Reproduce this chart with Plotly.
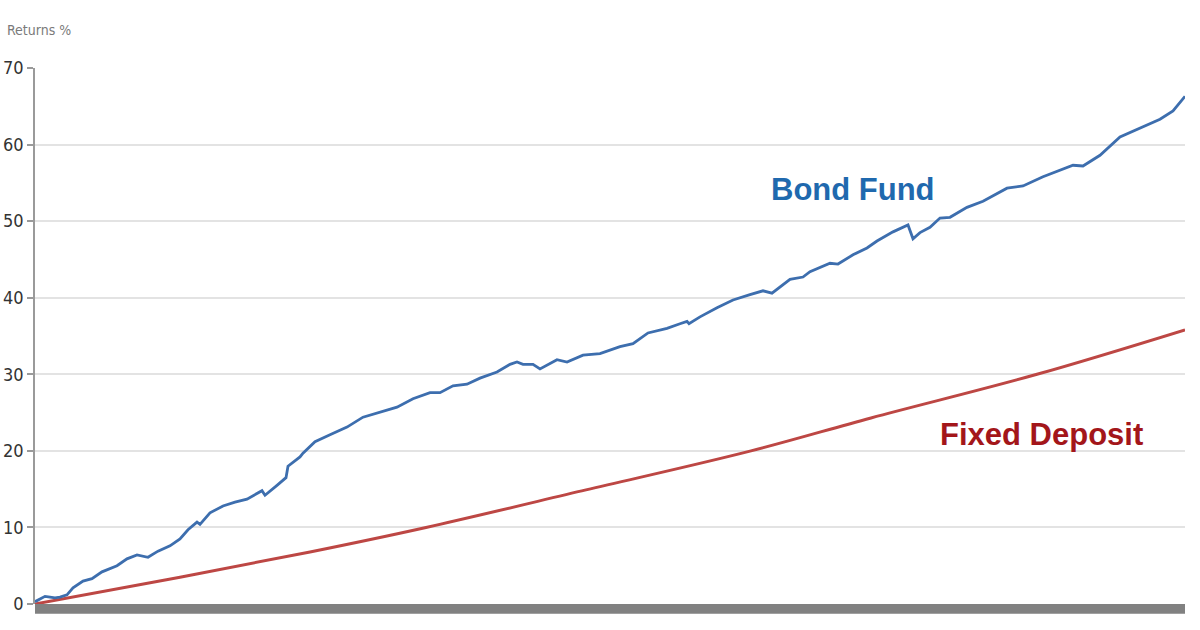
import plotly.graph_objects as go

# Bond fund cumulative returns (%) by trading day
bond_day = [0, 10, 15, 20, 25, 32, 38, 48, 57, 67, 82, 92, 102, 113, 123, 135, 145, 153, 162, 165,
            175, 188, 200, 212, 227, 230, 242, 251, 253, 262, 265, 268, 280, 295, 312, 328, 345, 362,
            378, 395, 405, 418, 432, 445, 462, 475, 482, 488, 498, 505, 522, 532, 548, 565, 585, 598,
            613, 632, 645, 652, 654, 665, 682, 698, 715, 728, 737, 745, 755, 768, 775, 795, 803, 818,
            832, 842, 858, 873, 878, 885, 895, 905, 915, 932, 948, 972, 988, 1008, 1025, 1038, 1048,
            1065, 1085, 1105, 1125, 1138, 1150]
bond_ret = [0.3, 1.0, 0.9, 0.8, 0.9, 1.2, 2.1, 3.0, 3.3, 4.2, 5.0, 5.9, 6.4, 6.1, 6.9, 7.6, 8.5, 9.7,
            10.7, 10.4, 11.9, 12.8, 13.3, 13.7, 14.8, 14.2, 15.5, 16.5, 18.0, 18.9, 19.2, 19.7, 21.2,
            22.1, 23.1, 24.4, 25.1, 25.7, 26.8, 27.6, 27.6, 28.5, 28.7, 29.5, 30.3, 31.3, 31.6, 31.3,
            31.3, 30.7, 31.9, 31.6, 32.5, 32.7, 33.6, 34.0, 35.4, 36.0, 36.6, 36.9, 36.6, 37.5, 38.7,
            39.7, 40.4, 40.9, 40.6, 41.4, 42.4, 42.7, 43.4, 44.5, 44.4, 45.6, 46.5, 47.4, 48.6, 49.5,
            47.7, 48.5, 49.2, 50.4, 50.5, 51.8, 52.6, 54.3, 54.6, 55.8, 56.7, 57.3, 57.2, 58.6, 61.0,
            62.2, 63.3, 64.4, 66.3]

# Fixed deposit cumulative returns (%)
fd_day = [0, 145, 275, 391, 551, 716, 836, 1002, 1150]
fd_ret = [0.0, 3.5, 6.8, 10.0, 14.9, 20.0, 24.3, 30.0, 35.8]

y_ticks = [0, 10, 20, 30, 40, 50, 60, 70]

NARROW = "DejaVu Sans Condensed, Roboto, sans-serif"

fig = go.Figure()
fig.add_trace(go.Scatter(x=fd_day, y=fd_ret, mode="lines",
                         line=dict(color="#bd4744", width=3, shape="spline"),
                         name="Fixed Deposit", showlegend=False))
fig.add_trace(go.Scatter(x=bond_day, y=bond_ret, mode="lines",
                         line=dict(color="#3d6eae", width=2.8),
                         name="Bond Fund", showlegend=False))

fig.update_layout(
    width=1200, height=630,
    margin=dict(l=35, r=15, t=68, b=26),
    paper_bgcolor="white", plot_bgcolor="white",
    font=dict(family=NARROW, color="#333333"),
    xaxis=dict(range=[0, 1150], showgrid=False, zeroline=False, showticklabels=False,
               ticks="", showline=False, fixedrange=True),
    yaxis=dict(range=[0, 70], tickvals=y_ticks, ticktext=[str(v) for v in y_ticks],
               automargin=False,
               showgrid=True, gridcolor="#e3e3e3", gridwidth=1.5, zeroline=False,
               showline=True, linecolor="#9a9a9a", linewidth=1.5,
               ticks="outside", ticklen=6, tickcolor="#9a9a9a", tickwidth=1.5,
               tickfont=dict(family=NARROW, size=18, color="#333333")),
    shapes=[dict(type="rect", xref="paper", yref="paper", x0=0, x1=1, y0=-0.018, y1=0,
                 fillcolor="#818181", line=dict(width=0), layer="above")],
    annotations=[
        dict(text="Returns %", xref="paper", yref="paper", x=-30/1150, y=1.071,
             xanchor="left", yanchor="middle", showarrow=False,
             font=dict(family=NARROW, size=14, color="#7a7a7a")),
        dict(text="<b>Bond Fund</b>", x=818, y=54.1, xref="x", yref="y", showarrow=False,
             font=dict(family="Liberation Sans", size=31, color="#1f69ae")),
        dict(text="<b>Fixed Deposit</b>", x=1006, y=22.2, xref="x", yref="y", showarrow=False,
             font=dict(family="Liberation Sans", size=31, color="#a3161a")),
    ],
)

fig.write_html("out.html", config={"displayModeBar": False},
               post_script="document.body.style.margin='0';")
